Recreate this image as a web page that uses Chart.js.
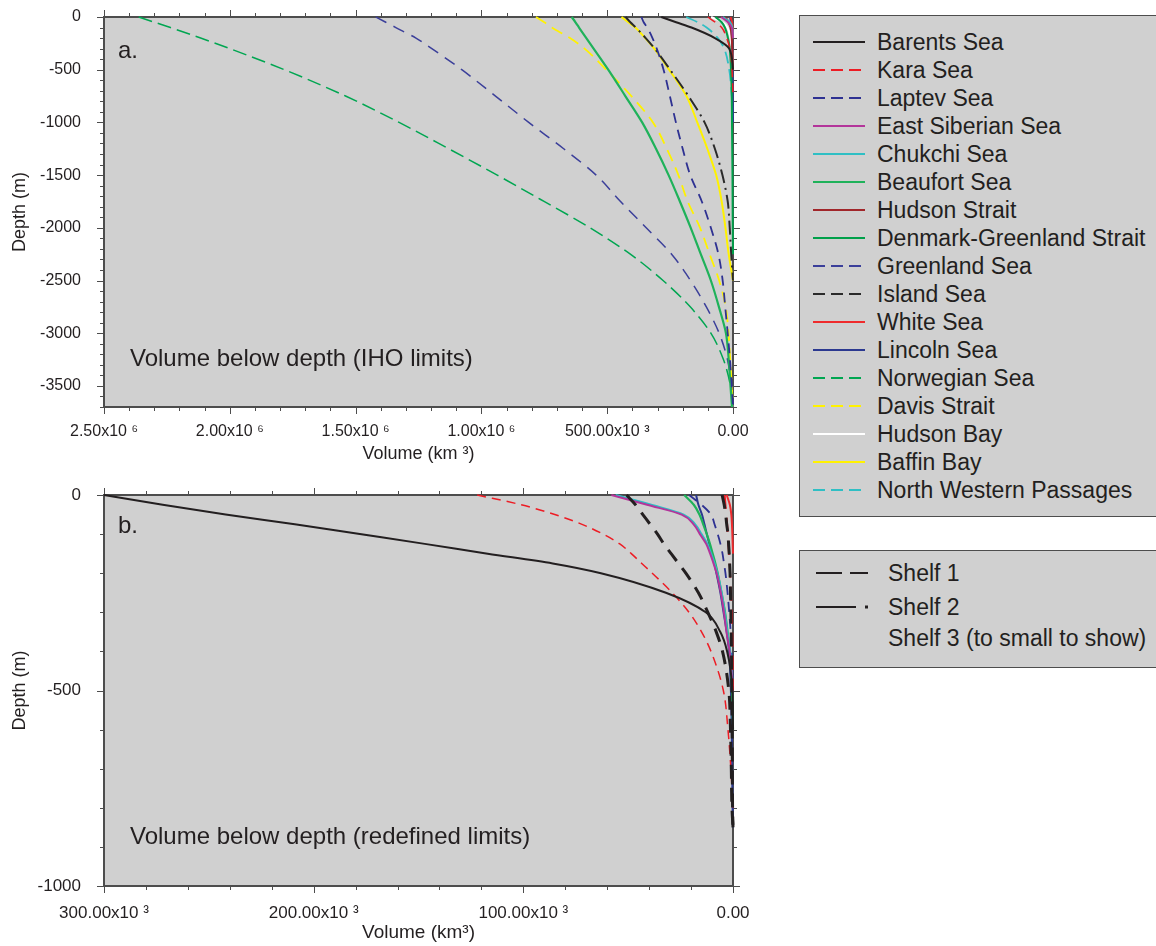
<!DOCTYPE html>
<html>
<head>
<meta charset="utf-8">
<script src="https://cdn.jsdelivr.net/npm/chart.js@4.4.0/dist/chart.umd.min.js"></script>
<style>
  body { margin: 0; background: #fff; overflow: hidden; font-family: "Liberation Sans", Arial, sans-serif; color: #231f20; }
  #page { position: relative; width: 1156px; height: 946px; overflow: hidden; }
  .panel { position: absolute; left: 0; width: 760px; }
  .note { position: absolute; font-size: 24px; line-height: 24px; white-space: nowrap; }
  .legend { position: absolute; left: 799px; width: 400px; background: #d0d0d0; border: 1.5px solid #4d4d4d; box-sizing: border-box; }
  .row { position: absolute; left: 0; height: 28px; width: 400px; font-size: 23px; line-height: 28px; white-space: nowrap; }
  .row svg { position: absolute; top: 12px; }
  .row span { position: absolute; }
</style>
</head>
<body>
<div id="page">
  <div class="panel" style="top:0;height:470px"><canvas id="chartA"></canvas></div>
  <div class="panel" style="top:470px;height:476px"><canvas id="chartB"></canvas></div>
  <div class="note" style="left:118px;top:38px">a.</div>
  <div class="note" style="left:130px;top:346px">Volume below depth (IHO limits)</div>
  <div class="note" style="left:118px;top:513px">b.</div>
  <div class="note" style="left:130px;top:824px">Volume below depth (redefined limits)</div>
  <div id="legendSeas" class="legend" style="top:15px;height:502px"></div>
  <div id="legendShelves" class="legend" style="top:550px;height:118px"></div>
</div>
<script>
// volume below depth, two panels: IHO limits (a) and redefined limits (b)
// volumes are in 10^3 km^3, depths in m

const FONT = '"Liberation Sans", Arial, sans-serif'
const PLOT_BG = '#d0d0d0'
const AXIS_COLOR = '#4d4d4d'
const TEXT_COLOR = '#231f20'

// ---- panel a (IHO limits) ----
const depthsA = [0, -50, -100, -200, -300, -500, -750, -1000, -1250, -1500, -1750, -2000, -2250, -2500, -2750, -3000, -3250, -3500, -3700]

const barentsA = [285, 226, 165, 72, 15, 0]
const karaA = [100, 70, 45, 25, 12, 4, 0]
const laptevA = [364, 355, 341, 320, 303, 276, 251, 227, 200, 170, 124, 88, 58, 41, 31, 21, 12, 5, 0]
const eastSiberianA = [47, 20, 5, 0]
const chukchiA = [40, 12, 3, 0]
const beaufortA = [641, 626, 612, 583, 554, 496, 428, 361, 306, 256, 211, 168, 128, 88, 56, 28, 17, 10, 4]
const hudsonStraitA = [30, 18, 10, 5, 3, 0]
const denmarkGreenlandA = [70, 45, 32, 20, 13, 8, 5, 4, 3, 2, 1.5, 1, 0]
const greenlandA = [1420, 1380, 1340, 1260, 1197, 1078, 944, 812, 673, 544, 447, 345, 244, 169, 106, 55, 22, 7, 0]
const islandA = [427, 408, 386, 347, 311, 250, 177, 113, 72, 42, 21, 13, 7, 0]
const whiteA = [10, 4, 2, 0]
const lincolnA = [12, 8, 6, 4, 3, 2, 1, 0]
const norwegianA = [2362, 2299, 2236, 2116, 2000, 1783, 1540, 1327, 1130, 937, 751, 568, 408, 278, 170, 88, 38, 10, 0]
const davisA = [783, 750, 720, 648, 590, 504, 404, 318, 263, 217, 180, 131, 93, 55, 29, 18, 11, 5, 0]
const hudsonBayA = [87, 40, 22, 10, 4, 0]
const baffinA = [443, 416, 388, 349, 313, 254, 185, 142, 102, 67, 45, 30, 17, 0]
const nwPassagesA = [186, 140, 105, 60, 35, 15, 5, 0]

const xTicksA = [0, 500, 1000, 1500, 2000, 2500]
const xTickLabelsA = ['0.00', '500.00x10 ³', '1.00x10 ⁶', '1.50x10 ⁶', '2.00x10 ⁶', '2.50x10 ⁶']
const yTicksA = [-3500, -3000, -2500, -2000, -1500, -1000, -500, 0]

// ---- panel b (redefined limits) ----
const depthsB = [0, -25, -50, -75, -100, -125, -150, -175, -200, -250, -300, -350, -400, -500, -600, -700, -800, -850]

const barentsB = [300, 272, 242, 209, 178, 147, 117, 86, 63, 32, 13, 6.1, 2.8, 0.3, 0]
const barentsShelf1B = [50.8, 46.5, 43, 39.5, 36, 33, 29.5, 26, 22.5, 16.5, 12, 8, 5, 2, 1.2, 0.8, 0.5, 0]
const barentsShelf2B = [5.2, 4.2, 3.5, 3, 2.4, 2.1, 1.8, 1.6, 1.4, 1.2, 1, 0.85, 0.7, 0.55, 0.4, 0.3, 0.2, 0]
const karaB = [122, 101, 85, 72, 62, 54, 48.5, 43.5, 38.5, 29, 21, 15, 10.5, 4.6, 2.4, 1, 0]
const karaShelf2B = [4, 3.6, 3.2, 2.8, 2.5, 2.2, 1.9, 1.6, 1.4, 1, 0.6, 0.4, 0.2, 0]
const eastSiberianB = [58, 41, 24.5, 18.8, 15.8, 12.8, 10.9, 9.3, 7.8, 5.8, 4.3, 3.1, 1.6, 0]
const chukchiB = [56, 39, 23.5, 18, 15, 12.2, 10.4, 8.8, 7.4, 5.4, 3.9, 2.7, 1.3, 0]
const beaufortB = [23.3, 18.7, 16, 14.2, 12.5, 11, 9.7, 8.4, 7.3, 5.5, 3.8, 2.6, 1.5, 0.5, 0]
const lincolnB = [17.6, 16.5, 14.8, 13.6, 12.5, 11.3, 10.1, 8.9, 7.9, 6, 4.5, 3, 1.9, 1, 0.6, 0.4, 0.2, 0]
const laptevB = [21, 15, 10.5, 8.8, 7.3, 6, 5, 4.3, 3.6, 2.6, 1.8, 1.1, 0.6, 0]
const whiteB = [3, 1.5, 0.8, 0.5, 0.3, 0.15, 0]

const xTicksB = [0, 100, 200, 300]
const xTickLabelsB = ['0.00', '100.00x10 ³', '200.00x10 ³', '300.00x10 ³']
const yTicksB = [-1000, -500, 0]

// ---- styles ----
const SEA_STYLES = {
  'Barents Sea': { color: '#231f20', dash: [], width: 2 },
  'Kara Sea': { color: '#ed1c24', dash: [9, 6], width: 1.5 },
  'Laptev Sea': { color: '#2e3192', dash: [10, 7], width: 1.8 },
  'East Siberian Sea': { color: '#b3359a', dash: [], width: 2 },
  'Chukchi Sea': { color: '#2fbfc4', dash: [], width: 2 },
  'Beaufort Sea': { color: '#1fb25a', dash: [], width: 2.2 },
  'Hudson Strait': { color: '#a1262a', dash: [], width: 2 },
  'Denmark-Greenland Strait': { color: '#00a04a', dash: [], width: 2 },
  'Greenland Sea': { color: '#3b3f9a', dash: [12, 8], width: 1.5 },
  'Island Sea': { color: '#2a2a2a', dash: [14, 5, 2, 5], width: 2 },
  'White Sea': { color: '#ef2b2d', dash: [], width: 2 },
  'Lincoln Sea': { color: '#2b3990', dash: [], width: 2 },
  'Norwegian Sea': { color: '#00a651', dash: [14, 6], width: 1.5 },
  'Davis Strait': { color: '#fff200', dash: [12, 7], width: 1.8 },
  'Hudson Bay': { color: '#ffffff', dash: [], width: 2 },
  'Baffin Bay': { color: '#fff200', dash: [], width: 2 },
  'North Western Passages': { color: '#2fbfc4', dash: [12, 6], width: 1.8 },
}
const SHELF_STYLES = {
  1: { dash: [14, 9], width: 3 },
  2: { dash: [14, 9], width: 3 },
}

const seriesA = [
  { sea: 'Barents Sea', values: barentsA },
  { sea: 'Kara Sea', values: karaA },
  { sea: 'Laptev Sea', values: laptevA },
  { sea: 'East Siberian Sea', values: eastSiberianA },
  { sea: 'Chukchi Sea', values: chukchiA },
  { sea: 'Beaufort Sea', values: beaufortA },
  { sea: 'Hudson Strait', values: hudsonStraitA },
  { sea: 'Denmark-Greenland Strait', values: denmarkGreenlandA },
  { sea: 'Greenland Sea', values: greenlandA },
  { sea: 'Island Sea', values: islandA },
  { sea: 'White Sea', values: whiteA },
  { sea: 'Lincoln Sea', values: lincolnA },
  { sea: 'Norwegian Sea', values: norwegianA },
  { sea: 'Davis Strait', values: davisA },
  { sea: 'Hudson Bay', values: hudsonBayA },
  { sea: 'Baffin Bay', values: baffinA },
  { sea: 'North Western Passages', values: nwPassagesA },
]

const seriesB = [
  { sea: 'Barents Sea', values: barentsB },
  { sea: 'Barents Sea', shelf: 1, values: barentsShelf1B, color: '#231f20' },
  { sea: 'Barents Sea', shelf: 2, values: barentsShelf2B, color: '#231f20' },
  { sea: 'Kara Sea', values: karaB },
  { sea: 'Kara Sea', shelf: 2, values: karaShelf2B, color: '#ed1c24', width: 2 },
  { sea: 'East Siberian Sea', values: eastSiberianB },
  { sea: 'Chukchi Sea', values: chukchiB },
  { sea: 'Beaufort Sea', values: beaufortB },
  { sea: 'Lincoln Sea', values: lincolnB },
  { sea: 'Laptev Sea', values: laptevB },
  { sea: 'White Sea', values: whiteB },
]

const LEGEND_SEAS = Object.keys(SEA_STYLES)
const LEGEND_SHELVES = ['Shelf 1', 'Shelf 2', 'Shelf 3 (to small to show)']

const toPoints = (depths, values) =>
  depths.map((d, i) => (values[i] == null ? null : { x: values[i], y: d })).filter(p => p)

const isMajor = (v, step) => Math.abs(v / step - Math.round(v / step)) < 1e-6

// plot background, frame and minor/major ticks on all four sides
const frameTicks = {
  id: 'frameTicks',
  beforeDraw(chart) {
    const { ctx, chartArea: a } = chart
    ctx.save()
    ctx.fillStyle = PLOT_BG
    ctx.fillRect(a.left, a.top, a.right - a.left, a.bottom - a.top)
    ctx.restore()
  },
  beforeDatasetsDraw(chart, args, opts) {
    const { ctx, chartArea: a, scales: { x, y } } = chart
    ctx.save()
    ctx.strokeStyle = AXIS_COLOR
    ctx.lineWidth = 1
    ctx.beginPath()
    for (let v = x.min; v <= x.max + opts.xMinor / 100; v += opts.xMinor) {
      const px = Math.round(x.getPixelForValue(v)) + 0.5
      const len = isMajor(v, opts.xMajor) ? 7 : 4
      ctx.moveTo(px, a.top)
      ctx.lineTo(px, a.top - len)
      ctx.moveTo(px, a.bottom)
      ctx.lineTo(px, a.bottom + len)
    }
    for (let v = y.min; v <= y.max + opts.yMinor / 100; v += opts.yMinor) {
      const py = Math.round(y.getPixelForValue(v)) + 0.5
      const len = isMajor(v, opts.yMajor) ? 7 : 4
      ctx.moveTo(a.left, py)
      ctx.lineTo(a.left - len, py)
      ctx.moveTo(a.right, py)
      ctx.lineTo(a.right + len, py)
    }
    ctx.stroke()
    ctx.lineWidth = 2
    ctx.strokeRect(a.left, a.top, a.right - a.left, a.bottom - a.top)
    ctx.restore()
  },
}

const makeChart = (canvasId, panel) => {
  const datasets = panel.series.map(s => {
    const base = SEA_STYLES[s.sea]
    const shelf = s.shelf ? SHELF_STYLES[s.shelf] : null
    return {
      label: s.shelf ? `${s.sea} shelf ${s.shelf}` : s.sea,
      data: toPoints(panel.depths, s.values),
      borderColor: s.color || base.color,
      borderDash: shelf ? shelf.dash : base.dash,
      borderWidth: s.width || (shelf ? shelf.width : base.width),
      pointRadius: 0,
      fill: false,
      cubicInterpolationMode: 'monotone',
      clip: false,
    }
  })

  return new Chart(document.getElementById(canvasId), {
    type: 'line',
    data: { datasets },
    options: {
      indexAxis: 'y',
      responsive: true,
      maintainAspectRatio: false,
      animation: false,
      devicePixelRatio: 1,
      layout: { autoPadding: false, padding: { top: panel.padTop, right: 27, left: 0, bottom: 0 } },
      plugins: {
        legend: { display: false },
        tooltip: { enabled: false },
        frameTicks: panel.tickSteps,
      },
      scales: {
        x: {
          type: 'linear',
          reverse: true,
          min: panel.xMin,
          max: panel.xMax,
          grid: { display: false },
          border: { display: false },
          afterBuildTicks: s => { s.ticks = panel.xTicks.map(v => ({ value: v })) },
          afterFit: s => {
            s.height = panel.xHeight
            s.paddingLeft = 0
            s.paddingRight = 0
          },
          ticks: {
            autoSkip: false,
            maxRotation: 0,
            padding: panel.xPad,
            color: TEXT_COLOR,
            font: { family: FONT, size: panel.xTickSize },
            callback: v => panel.xLabels[panel.xTicks.indexOf(v)] ?? '',
          },
          title: {
            display: true,
            text: panel.xTitle,
            color: TEXT_COLOR,
            font: { family: FONT, size: panel.titleSize },
            padding: { top: 0, bottom: panel.xTitlePad },
          },
        },
        y: {
          type: 'linear',
          min: panel.yMin,
          max: 0,
          grid: { display: false },
          border: { display: false },
          afterBuildTicks: s => { s.ticks = panel.yTicks.map(v => ({ value: v })) },
          afterFit: s => {
            // fixed axis box so the plot area lines up with the reference
            s.width = 104
            s.paddingTop = 0
            s.paddingBottom = 0
          },
          ticks: {
            autoSkip: false,
            padding: 15,
            color: TEXT_COLOR,
            font: { family: FONT, size: panel.yTickSize },
            callback: v => String(v),
          },
          title: {
            display: true,
            text: 'Depth (m)',
            color: TEXT_COLOR,
            font: { family: FONT, size: 18 },
            padding: { top: 9, bottom: 0 },
          },
        },
      },
    },
    plugins: [frameTicks],
  })
}

const buildLegends = () => {
  const seasBox = document.getElementById('legendSeas')
  seasBox.innerHTML = LEGEND_SEAS.map((name, i) => {
    const st = SEA_STYLES[name]
    const dashed = st.dash.length > 0
    const w = dashed ? 48 : 52
    return `<div class="row" style="top:${12 + i * 28}px">
      <svg width="${w}" height="4" style="left:13px"><line x1="0" y1="2" x2="${w}" y2="2" stroke="${st.color}" stroke-width="2" ${dashed ? 'stroke-dasharray="12 6"' : ''}/></svg>
      <span style="left:77px">${name}</span></div>`
  }).join('')

  const shelfBox = document.getElementById('legendShelves')
  const samples = [
    '<line x1="0" y1="2" x2="26" y2="2" stroke="#231f20" stroke-width="2"/><line x1="34" y1="2" x2="52" y2="2" stroke="#231f20" stroke-width="2"/>',
    '<line x1="0" y1="2" x2="40" y2="2" stroke="#231f20" stroke-width="2"/><line x1="49" y1="2" x2="52" y2="2" stroke="#231f20" stroke-width="3"/>',
    '',
  ]
  const rowTops = [8, 42, 73]
  shelfBox.innerHTML = LEGEND_SHELVES.map((name, i) => `<div class="row" style="top:${rowTops[i]}px">
      <svg width="54" height="4" style="left:16px">${samples[i]}</svg>
      <span style="left:88px">${name}</span></div>`).join('')
}

const main = () => {
  buildLegends()

  makeChart('chartA', {
    series: seriesA,
    depths: depthsA,
    padTop: 17,
    xMin: 0,
    xMax: 2500,
    yMin: -3700,
    xTicks: xTicksA,
    xLabels: xTickLabelsA,
    yTicks: yTicksA,
    xHeight: 63,
    xPad: 7,
    xTickSize: 16,
    yTickSize: 16,
    titleSize: 18,
    xTitle: 'Volume (km ³)',
    xTitlePad: 5,
    tickSteps: { xMinor: 100, xMajor: 500, yMinor: 100, yMajor: 500 },
  })

  makeChart('chartB', {
    series: seriesB,
    depths: depthsB,
    padTop: 25,
    xMin: 0,
    xMax: 300,
    yMin: -1000,
    xTicks: xTicksB,
    xLabels: xTickLabelsB,
    yTicks: yTicksB,
    xHeight: 60,
    xPad: 9,
    xTickSize: 17,
    yTickSize: 17,
    titleSize: 19,
    xTitle: 'Volume (km³)',
    xTitlePad: 2,
    tickSteps: { xMinor: 20, xMajor: 100, yMinor: 100, yMajor: 500 },
  })
}

window.addEventListener('load', main)
</script>
</body>
</html>
